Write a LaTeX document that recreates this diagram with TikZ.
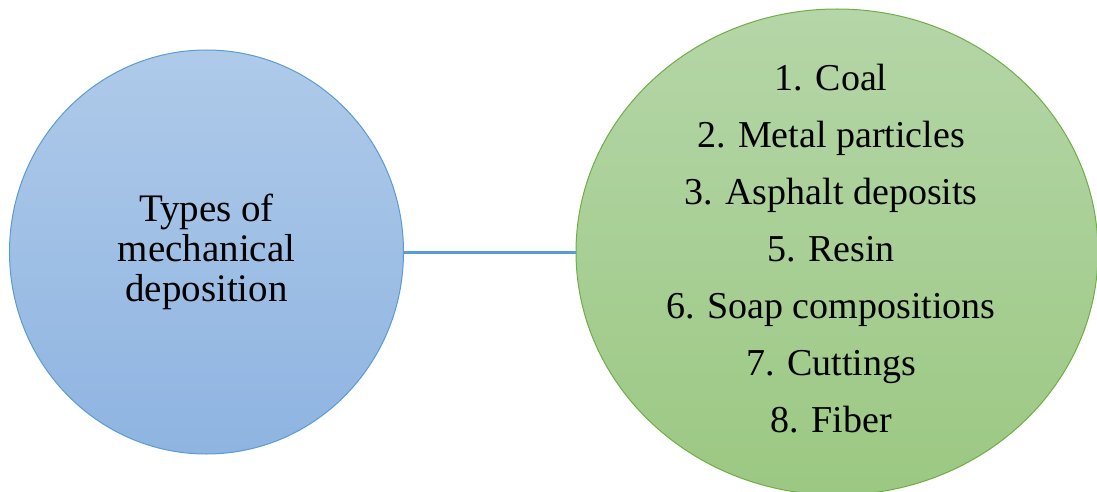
\documentclass[tikz,border=0pt]{standalone}
\usepackage{fontspec}
\setmainfont{Liberation Serif}
\usetikzlibrary{shapes.geometric}
\definecolor{blueedge}{HTML}{5B9BD5}
\definecolor{bluetop}{HTML}{AFCAE9}
\definecolor{bluebot}{HTML}{8EB4E1}
\definecolor{greenedge}{HTML}{70AD47}
\definecolor{greentop}{HTML}{B5D6A8}
\definecolor{greenbot}{HTML}{9BC882}
\tikzset{
  bubble/.style={ellipse, inner sep=0pt, line width=1pt, align=center},
  bluebubble/.style={bubble, draw=blueedge, top color=bluetop, bottom color=bluebot},
  greenbubble/.style={bubble, draw=greenedge, top color=greentop, bottom color=greenbot},
  link/.style={draw=blueedge, line width=3pt}
}
\begin{document}
\begin{tikzpicture}[x=1pt,y=-1pt]
\useasboundingbox (0,0) rectangle (1097,492);
\node[bluebubble, minimum width=394pt, minimum height=404pt,
      font=\fontsize{39}{40}\selectfont] (types) at (206.5,252)
  {Types of\\mechanical\\deposition};
\node[greenbubble, minimum width=522pt, minimum height=486pt] (list) at (837,252) {};
\node[align=center, inner sep=0pt, font=\fontsize{38}{57}\selectfont] (items) at (831,249)
  {1. Coal\\2. Metal particles\\3. Asphalt deposits\\5. Resin\\6. Soap compositions\\7. Cuttings\\8. Fiber};
\draw[link] (types.east) -- (list.west);
\end{tikzpicture}
\end{document}
